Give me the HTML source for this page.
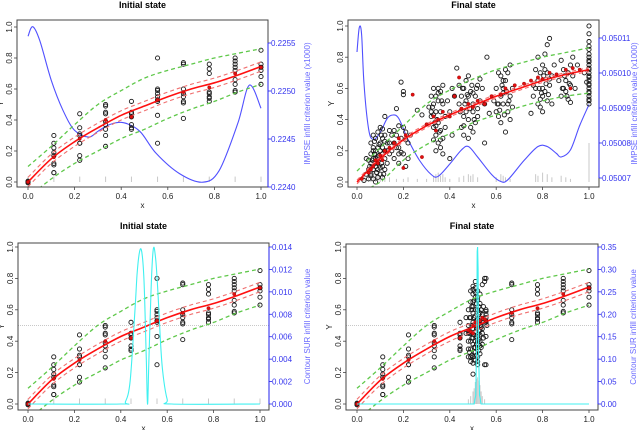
<!DOCTYPE html>
<html><head><meta charset="utf-8"><style>
html,body{margin:0;padding:0;background:#fff;}
svg{display:block;font-family:"Liberation Sans",sans-serif;}
</style></head><body>
<svg id="chart" width="640" height="430" viewBox="0 0 640 430"></svg>
<script>
// ---------- data ----------
const initX = [0,0.111,0.222,0.333,0.444,0.556,0.667,0.778,0.889,1];
const initPtsX = [0,0,0,
 0.111,0.111,0.111,0.111,0.111,0.111,0.111,0.111,0.111,
 0.222,0.222,0.222,0.222,0.222,0.222,0.222,0.222,
 0.333,0.333,0.333,0.333,0.333,0.333,0.333,0.333,0.333,
 0.444,0.444,0.444,0.444,0.444,0.444,0.444,
 0.556,0.556,0.556,0.556,0.556,0.556,0.556,0.556,0.556,
 0.667,0.667,0.667,0.667,0.667,0.667,0.667,0.667,
 0.778,0.778,0.778,0.778,0.778,0.778,0.778,0.778,
 0.889,0.889,0.889,0.889,0.889,0.889,0.889,0.889,0.889,
 1,1,1,1,1,1];
const initPtsY = [0,0.005,-0.005,
 0.30,0.25,0.22,0.19,0.17,0.12,0.11,0.06,0.06,
 0.44,0.35,0.31,0.30,0.25,0.25,0.17,0.14,
 0.50,0.49,0.45,0.44,0.39,0.37,0.34,0.30,0.23,
 0.52,0.45,0.44,0.42,0.37,0.35,0.34,
 0.80,0.60,0.59,0.57,0.55,0.53,0.52,0.43,0.25,
 0.77,0.76,0.60,0.57,0.55,0.52,0.51,0.41,
 0.76,0.73,0.70,0.58,0.57,0.55,0.54,0.52,
 0.80,0.78,0.76,0.74,0.72,0.66,0.63,0.59,0.58,
 0.85,0.76,0.74,0.72,0.68,0.63];
const initRedY = [0,0.16,0.28,0.40,0.42,0.53,0.58,0.61,0.70,0.74];
const curveX = [0,0.1,0.2,0.3,0.4,0.5,0.6,0.7,0.8,0.9,1];
const initMean = [0,0.15,0.26,0.35,0.43,0.49,0.55,0.60,0.64,0.69,0.745];
const initUpper = [0.10,0.23,0.37,0.50,0.59,0.67,0.72,0.76,0.80,0.83,0.86];
const initLower = [-0.10,0.02,0.12,0.20,0.28,0.34,0.41,0.47,0.52,0.58,0.63];
const finMean = [0,0.15,0.27,0.36,0.43,0.49,0.55,0.60,0.65,0.69,0.72];
const finUpper = [0.07,0.22,0.36,0.50,0.59,0.66,0.72,0.76,0.80,0.83,0.86];
const finLower = [-0.07,0.0,0.14,0.24,0.31,0.38,0.43,0.48,0.52,0.55,0.57];

const impse1X = [0,0.02,0.05,0.1,0.15,0.2,0.26,0.3,0.35,0.41,0.48,0.55,0.65,0.75,0.82,0.9,0.95,1];
const impse1V = [0.22557,0.22567,0.22553,0.22511,0.22480,0.22459,0.22452,0.22458,0.22465,0.22467,0.22458,0.22435,0.22414,0.22405,0.22417,0.22466,0.22506,0.22482];
const impse2X = [0,0.01,0.02,0.03,0.05,0.07,0.1,0.13,0.155,0.18,0.22,0.27,0.32,0.35,0.4,0.45,0.48,0.52,0.58,0.62,0.65,0.72,0.78,0.82,0.86,0.88,0.92,0.96,1];
const impse2V = [0.050106,0.050113,0.050111,0.050097,0.050084,0.050081,0.050083,0.050087,0.050088,0.050087,0.050081,0.050075,0.050071,0.0500705,0.050074,0.050078,0.050079,0.050076,0.050071,0.050069,0.0500695,0.050075,0.050079,0.050079,0.050077,0.050076,0.050078,0.050085,0.050091];
const sur1X = [0,0.40,0.42,0.44,0.46,0.47,0.48,0.49,0.50,0.51,0.515,0.52,0.53,0.54,0.55,0.56,0.57,0.58,0.60,0.62,1];
const sur1V = [0,0,0.0002,0.002,0.008,0.0115,0.0135,0.0136,0.011,0.004,0,0.003,0.010,0.0138,0.013,0.010,0.006,0.003,0.0004,0,0];
const sur2X = [0,0.505,0.512,0.516,0.518,0.52,0.522,0.524,0.528,0.535,1];
const sur2V = [0,0,0.02,0.15,0.34,0.35,0.30,0.12,0.02,0,0];

const finPtsX = [0.05,0.06,0.07,0.08,0.09,0.1,0.11,0.06,0.07,0.08,0.09,0.1,0.11,0.12,0.05,0.06,0.07,0.08,0.09,0.1,0.12,0.11,0.1,0.09,0.08,0.07,0.12,0.13,0.13,0.12,0.11,0.04,0.03,0.05,0.06,0.07,0.1,0.09,0.08,0.11,0.12,0.14,0.14,0.065,0.085,0.095,0.105,0.115,0.075,0.04,
0.15,0.16,0.17,0.18,0.19,0.2,0.21,0.22,0.16,0.18,0.2,0.19,0.2,0.17,0.22,0.15,0.23,0.21,0.18,0.14,0.2,0.26,0.28,
0.32,0.33,0.34,0.35,0.36,0.33,0.34,0.35,0.36,0.37,0.32,0.33,0.34,0.35,0.36,0.37,0.38,0.31,0.34,0.36,0.37,0.35,0.33,0.38,0.39,0.4,0.41,0.37,0.41,0.4,
0.44,0.45,0.46,0.47,0.48,0.49,0.5,0.51,0.52,0.45,0.46,0.47,0.48,0.49,0.5,0.51,0.52,0.53,0.44,0.43,0.46,0.5,0.54,0.55,0.56,0.55,0.48,0.42,0.53,0.47,
0.6,0.61,0.62,0.63,0.64,0.65,0.66,0.6,0.61,0.62,0.63,0.64,0.65,0.66,0.67,0.59,0.62,0.64,0.66,0.67,0.57,0.63,
0.76,0.77,0.78,0.79,0.8,0.81,0.82,0.83,0.84,0.78,0.79,0.8,0.81,0.82,0.83,0.77,0.8,0.84,0.76,0.78,0.82,0.8,0.85,0.75,
0.88,0.89,0.9,0.91,0.92,0.93,0.88,0.9,0.91,0.92,0.93,0.94,0.89,0.92,0.87,0.95,
1,1,1,1,1,1,1,1,1,1,1,1,1,1,1,1,1,1,0.99,0.98,
0.055,0.065,0.075,0.085,0.095,0.105,0.06,0.08,0.1,0.12,0.07,0.09,0.11,0.13,0.17,0.19,0.21,0.16,0.18,
0.325,0.335,0.345,0.355,0.365,0.33,0.35,0.36,0.34,0.32,
0.445,0.455,0.465,0.475,0.485,0.495,0.505,0.515,0.46,0.48,0.5,0.52,
0.605,0.615,0.625,0.635,0.645,0.655,0.61,0.63,0.65,
0.785,0.795,0.805,0.815,0.825,0.79,0.81,0.83,0.885,0.895,0.905,0.915,
1,1,1,1,1,1,1];
const finPtsY = [0.02,0.05,0.08,0.1,0.12,0.15,0.18,0.12,0.15,0.2,0.22,0.25,0.28,0.3,0.08,0.18,0.22,0.28,0.32,0.35,0.2,0.1,0.05,0.03,0.0,0.02,0.08,0.12,0.25,0.15,0.22,0.05,0.01,0.14,0.25,0.3,0.2,0.08,0.15,0.34,0.42,0.33,0.18,0.1,0.06,0.17,0.12,0.05,0.26,0.15,
0.2,0.25,0.3,0.22,0.28,0.18,0.32,0.25,0.15,0.12,0.35,0.64,0.58,0.47,0.15,0.3,0.3,0.1,0.36,0.25,0.56,0.46,0.43,
0.42,0.5,0.55,0.6,0.45,0.35,0.3,0.25,0.22,0.28,0.55,0.6,0.45,0.38,0.33,0.5,0.42,0.48,0.2,0.58,0.62,0.52,0.27,0.35,0.52,0.45,0.3,0.18,0.6,0.15,
0.5,0.55,0.6,0.45,0.4,0.35,0.5,0.55,0.62,0.35,0.3,0.65,0.68,0.58,0.45,0.38,0.42,0.52,0.62,0.73,0.42,0.32,0.6,0.5,0.8,0.25,0.28,0.55,0.66,0.52,
0.45,0.5,0.55,0.6,0.65,0.7,0.75,0.6,0.42,0.38,0.5,0.32,0.45,0.55,0.6,0.52,0.68,0.72,0.4,0.48,0.44,0.57,
0.55,0.6,0.65,0.7,0.75,0.58,0.52,0.62,0.68,0.5,0.48,0.6,0.82,0.88,0.92,0.72,0.55,0.5,0.62,0.8,0.7,0.45,0.75,0.44,
0.55,0.6,0.65,0.7,0.75,0.8,0.78,0.58,0.53,0.62,0.68,0.6,0.72,0.51,0.65,0.75,
0.5,0.55,0.6,0.65,0.7,0.75,0.8,0.85,0.9,0.95,1.0,0.52,0.58,0.62,0.68,0.72,0.78,0.82,0.64,0.7,
0.1,0.14,0.18,0.06,0.24,0.3,0.04,0.12,0.09,0.26,0.2,0.16,0.03,0.2,0.22,0.19,0.27,0.33,0.18,
0.48,0.38,0.4,0.32,0.52,0.43,0.57,0.27,0.36,0.45,
0.45,0.6,0.5,0.56,0.47,0.62,0.4,0.6,0.36,0.55,0.57,0.47,
0.5,0.46,0.62,0.43,0.58,0.52,0.7,0.65,0.5,
0.6,0.57,0.68,0.63,0.56,0.53,0.72,0.66,0.6,0.68,0.55,0.63,
0.53,0.57,0.63,0.67,0.73,0.77,0.87];
const finRedX = [0.02,0.05,0.07,0.08,0.09,0.1,0.12,0.14,0.16,0.18,0.2,0.21,0.24,0.28,0.3,0.33,0.34,0.35,0.37,0.4,0.42,0.44,0.45,0.48,0.5,0.52,0.55,0.58,0.62,0.64,0.68,0.72,0.75,0.78,0.8,0.83,0.86,0.9,0.93,0.96,0.92,0.11,0.06];
const finRedY = [0.02,0.06,0.1,0.14,0.12,0.17,0.2,0.22,0.25,0.28,0.09,0.3,0.56,0.16,0.37,0.42,0.33,0.4,0.45,0.42,0.55,0.67,0.47,0.5,0.48,0.52,0.5,0.55,0.56,0.6,0.62,0.63,0.65,0.67,0.66,0.7,0.69,0.72,0.73,0.72,0.6,0.14,0.08];
const histTRX = [0.03,0.05,0.06,0.07,0.08,0.09,0.1,0.11,0.12,0.14,0.17,0.2,0.22,0.26,0.3,0.33,0.34,0.35,0.36,0.37,0.38,0.4,0.44,0.46,0.48,0.49,0.5,0.52,0.6,0.62,0.63,0.64,0.66,0.77,0.78,0.8,0.82,0.84,0.88,0.9,0.92,1];
const histTRH = [0.04,0.06,0.05,0.07,0.05,0.06,0.04,0.05,0.03,0.03,0.02,0.02,0.03,0.02,0.02,0.04,0.05,0.06,0.04,0.05,0.03,0.02,0.03,0.04,0.05,0.04,0.05,0.03,0.03,0.05,0.04,0.03,0.02,0.05,0.04,0.06,0.05,0.03,0.04,0.03,0.02,0.25];
const brPtsX = [.48,.48,.48,.48,.49,.49,.49,.49,.49,.5,.5,.5,.5,.5,.5,.5,.5,.51,.51,.51,.51,.51,.51,.51,.51,.51,.52,.52,.52,.52,.52,.52,.52,.52,.53,.53,.53,.53,.53,.53,.54,.54,.54,.54,.55,.55,.56,.55,.5,.47,.47,.49,.5,.52,.53,.54,.48,.49,.5,.51,.52,.53,.505,.515,.525,.495,.535,.485,
.485,.485,.485,.495,.495,.495,.505,.505,.505,.505,.515,.515,.515,.515,.525,.525,.525,.535,.535,.535,.545,.545,.49,.5,.51,.52,.53,.48,.54,.5,.51,.52,.505,.515,.495,.525];
const brPtsY = [.3,.4,.5,.6,.27,.35,.45,.55,.65,.3,.38,.42,.48,.52,.58,.62,.7,.28,.33,.4,.46,.5,.56,.6,.68,.74,.3,.36,.44,.5,.54,.6,.66,.72,.32,.4,.47,.53,.58,.64,.38,.45,.52,.57,.78,.8,.5,.25,.19,.45,.55,.72,.75,.25,.7,.76,.35,.4,.65,.36,.4,.44,.33,.43,.57,.5,.49,.46,
.33,.45,.55,.31,.42,.6,.28,.36,.55,.66,.31,.38,.53,.64,.34,.47,.62,.36,.5,.6,.42,.62,.3,.26,.71,.68,.37,.45,.48,.73,.78,.27,.44,.48,.62,.41];
const brRedX = [.49,.5,.51,.52,.53,.54,.55,.5,.52,.48];
const brRedY = [.46,.5,.52,.48,.53,.55,.54,.45,.52,.47];
const histBRX = [0.48,0.49,0.5,0.505,0.51,0.515,0.52,0.525,0.53,0.535,0.54,0.55];
const histBRH = [0.03,0.05,0.08,0.1,0.14,0.16,0.17,0.15,0.12,0.08,0.05,0.03];
const xTicks = [0,0.2,0.4,0.6,0.8,1];
const yTicks = [0,0.2,0.4,0.6,0.8,1];
const impse1Ticks = [0.2240,0.2245,0.2250,0.2255];
const impse2Ticks = [0.05007,0.05008,0.05009,0.05010,0.05011];
const sur1Ticks = [0,0.002,0.004,0.006,0.008,0.010,0.012,0.014];
const sur2Ticks = [0,0.05,0.10,0.15,0.20,0.25,0.30,0.35];

// ---------- drawing ----------
const NS = 'http://www.w3.org/2000/svg';
const root = document.getElementById('chart');
function mk(tag, attrs, parent, txt){
  const e = document.createElementNS(NS, tag);
  for (const k in attrs) e.setAttribute(k, attrs[k]);
  if (txt !== undefined) e.textContent = txt;
  parent.appendChild(e);
  return e;
}
function linScale(d0,d1,r0,r1){ return v => r0 + (v-d0)/(d1-d0)*(r1-r0); }
function smoothPath(pts){
  let d = 'M' + pts[0][0].toFixed(1) + ',' + pts[0][1].toFixed(1);
  for (let i=0;i<pts.length-1;i++){
    const p0 = pts[Math.max(0,i-1)], p1 = pts[i], p2 = pts[i+1], p3 = pts[Math.min(pts.length-1,i+2)];
    const c1x = p1[0]+(p2[0]-p0[0])/6, c1y = p1[1]+(p2[1]-p0[1])/6;
    const c2x = p2[0]-(p3[0]-p1[0])/6, c2y = p2[1]-(p3[1]-p1[1])/6;
    d += ' C'+c1x.toFixed(1)+','+c1y.toFixed(1)+' '+c2x.toFixed(1)+','+c2y.toFixed(1)+' '+p2[0].toFixed(1)+','+p2[1].toFixed(1);
  }
  return d;
}

function panel(cfg){
  const g = mk('g', {transform:'translate('+cfg.ox+','+cfg.oy+')'}, root);
  
  
  const sx = linScale(0,1,cfg.x0,cfg.x1);
  const sy = linScale(0,1,cfg.y0,cfg.y1);
  const sr = linScale(cfg.r0v,cfg.r1v,cfg.r0p,cfg.r1p);
  const b = cfg.box;
  const clip = 'clip'+cfg.name;
  const cp = mk('clipPath',{id:clip},g);
  mk('rect',{x:b[0],y:b[1],width:b[2]-b[0],height:b[3]-b[1]},cp);
  const plot = mk('g',{'clip-path':'url(#'+clip+')'},g);
  
  

  const t = mk('text',{x:(b[0]+b[2])/2,y:cfg.titleY,'text-anchor':'middle','font-size':'9','font-weight':'bold'},g,cfg.title);
  
  

  if (cfg.threshold){
    const th = mk('line',{x1:b[0],x2:b[2],y1:sy(0.5),y2:sy(0.5),stroke:'#c8c8c8','stroke-width':1,'stroke-dasharray':'1,1'},plot);
    
    
  }
  cfg.histX.forEach((hx,i)=>{
    const h = mk('line',{x1:sx(hx),x2:sx(hx),y1:sy(0),y2:sy(cfg.histH[i]),stroke:'#c8c8c8','stroke-width':1},plot);
    
    
  });
  function drawCrit(){
    const pts = cfg.critX.map((cx,i)=>[sx(cx), sr(cfg.critV[i])]);
    const cl = mk('path',{d:cfg.critLinear ? 'M'+pts.map(p=>p[0].toFixed(1)+','+p[1].toFixed(1)).join(' L') : smoothPath(pts),fill:'none',stroke:cfg.critColor,'stroke-width':1.1},plot);
    
    
  }
  if (!cfg.critOnTop) drawCrit();
  cfg.ptsX.forEach((px,i)=>{
    const c = mk('circle',{cx:sx(px),cy:sy(cfg.ptsY[i]),r:2.1,fill:'none',stroke:'#1a1a1a','stroke-width':0.9},plot);
    
    
  });
  function path(arr, color, dash, w, nm){
    const pts = curveX.map((cx,i)=>[sx(cx), sy(arr[i])]);
    const e = mk('path',{d:smoothPath(pts),fill:'none',stroke:color,'stroke-width':w,'stroke-dasharray':dash},plot);
    
    
  }
  path(cfg.upper,'#5fc84a','4,3',1.3,'upper-quantile-line');
  path(cfg.lower,'#5fc84a','4,3',1.3,'lower-quantile-line');
  path(cfg.mean.map(v=>v+cfg.ci),'#f07070','4,3',1.1,'upper-mean-ci');
  path(cfg.mean.map(v=>v-cfg.ci),'#f07070','4,3',1.1,'lower-mean-ci');
  path(cfg.mean,'#ff1010','',1.6,'mean-curve');
  cfg.redX.forEach((rx,i)=>{
    const c = mk('circle',{cx:sx(rx),cy:sy(cfg.redY[i]),r:1.7,fill:'#e01010',stroke:'#900','stroke-width':0.4},plot);
    
    
  });
  if (cfg.critOnTop) drawCrit();

  const bx = mk('rect',{x:b[0],y:b[1],width:b[2]-b[0],height:b[3]-b[1],fill:'none',stroke:'#444','stroke-width':1},g);
  
  
  xTicks.forEach(v=>{
    mk('line',{x1:sx(v),x2:sx(v),y1:b[3],y2:b[3]+3,stroke:'#444','stroke-width':0.8},g);
    const tl = mk('text',{x:sx(v),y:b[3]+12,'text-anchor':'middle','font-size':'8',fill:'#222'},g,v.toFixed(1));
    
    
  });
  const xl = mk('text',{x:(b[0]+b[2])/2,y:b[3]+21,'text-anchor':'middle','font-size':'8',fill:'#222'},g,'x');
  
  
  yTicks.forEach(v=>{
    mk('line',{x1:b[0]-3,x2:b[0],y1:sy(v),y2:sy(v),stroke:'#444','stroke-width':0.8},g);
    const tl = mk('text',{x:0,y:0,'text-anchor':'middle','font-size':'8',fill:'#222',transform:'translate('+(b[0]-5)+','+sy(v)+') rotate(-90)'},g,v.toFixed(1));
    
    
  });
  const yl = mk('text',{x:0,y:0,'text-anchor':'middle','font-size':'8',fill:'#222',transform:'translate('+(b[0]-14)+','+((b[1]+b[3])/2)+') rotate(-90)'},g,'Y');
  
  
  const rt = cfg.rTicks;
  const ra = mk('line',{x1:b[2],x2:b[2],y1:sr(rt[0]),y2:sr(rt[rt.length-1]),stroke:'#2222ee','stroke-width':1},g);
  
  
  rt.forEach(v=>{
    mk('line',{x1:b[2],x2:b[2]+3,y1:sr(v),y2:sr(v),stroke:'#2222ee','stroke-width':0.8},g);
    const tl = mk('text',{x:b[2]+3,y:sr(v)+3,'font-size':'8',fill:'#3333ee'},g,v.toFixed(cfg.rDec));
    
    
  });
  const rl = mk('text',{x:0,y:0,'text-anchor':'middle','font-size':'8',fill:'#6a6aff',transform:'translate('+cfg.rTitleX+','+((b[1]+b[3])/2)+') rotate(-90)'},g,cfg.rTitle);
  
  
}

const initRug = initX;
const initRugH = initX.map(()=>0.035);

panel({name:'panel-initial-impse',ox:0,oy:0,box:[17,20,268,187],x0:28,x1:261,y0:182,y1:27,
  r0v:0.2240,r1v:0.2255,r0p:187,r1p:43,rTicks:impse1Ticks,rDec:4,rTitle:'IMPSE infill criterion value (x1000)',rTitleX:310,
  title:'Initial state',titleY:8,threshold:false,histX:initRug,histH:initRugH,critX:impse1X,critV:impse1V,critColor:'#5050ff',
  ptsX:initPtsX,ptsY:initPtsY,redX:initX,redY:initRedY,mean:initMean,upper:initUpper,lower:initLower,ci:0.03});
panel({name:'panel-final-impse',ox:320,oy:0,box:[28,20,279,187],x0:37,x1:269,y0:182,y1:26,
  r0v:0.05007,r1v:0.05011,r0p:178,r1p:38,rTicks:impse2Ticks,rDec:5,rTitle:'IMPSE infill criterion value (x1000)',rTitleX:317,
  title:'Final state',titleY:8,threshold:false,histX:histTRX,histH:histTRH,critX:impse2X,critV:impse2V,critColor:'#5050ff',
  ptsX:finPtsX,ptsY:finPtsY,redX:finRedX,redY:finRedY,mean:finMean,upper:finUpper,lower:finLower,ci:0.012});
panel({name:'panel-initial-sur',ox:0,oy:215,box:[18,28,269,195],x0:28,x1:260,y0:189,y1:32,
  r0v:0,r1v:0.014,r0p:189,r1p:32,rTicks:sur1Ticks,rDec:3,rTitle:'Contour SUR infill criterion value',rTitleX:310,
  title:'Initial state',titleY:14,threshold:true,histX:initRug,histH:initRugH,critX:sur1X,critV:sur1V,critColor:'#40f0f0',critOnTop:true,
  ptsX:initPtsX,ptsY:initPtsY,redX:initX,redY:initRedY,mean:initMean,upper:initUpper,lower:initLower,ci:0.03});
panel({name:'panel-final-sur',ox:320,oy:215,box:[26,29,278,195],x0:37,x1:269,y0:189,y1:32,
  r0v:0,r1v:0.35,r0p:189,r1p:32,rTicks:sur2Ticks,rDec:2,rTitle:'Contour SUR infill criterion value',rTitleX:316,
  title:'Final state',titleY:14,threshold:true,histX:histBRX,histH:histBRH,critX:sur2X,critV:sur2V,critColor:'#40f0f0',critOnTop:true,critLinear:true,
  ptsX:initPtsX.concat(brPtsX),ptsY:initPtsY.concat(brPtsY),redX:initX.concat(brRedX),redY:initRedY.concat(brRedY),mean:initMean,upper:initUpper,lower:initLower,ci:0.03});
</script>
</body></html>
